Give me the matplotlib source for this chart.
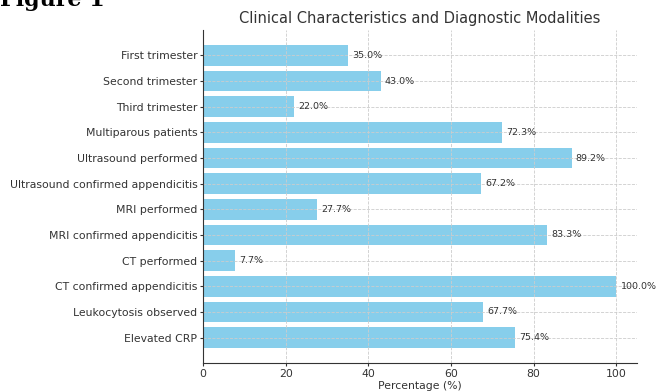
import matplotlib
matplotlib.use("Agg")
import matplotlib.pyplot as plt

categories = [
    "First trimester",
    "Second trimester",
    "Third trimester",
    "Multiparous patients",
    "Ultrasound performed",
    "Ultrasound confirmed appendicitis",
    "MRI performed",
    "MRI confirmed appendicitis",
    "CT performed",
    "CT confirmed appendicitis",
    "Leukocytosis observed",
    "Elevated CRP",
]
percentages = [35.0, 43.0, 22.0, 72.3, 89.2, 67.2, 27.7, 83.3, 7.7, 100.0, 67.7, 75.4]

W, H = 657, 392
fig = plt.figure(figsize=(W / 100, H / 100), dpi=100)
ax = fig.add_axes([203 / W, 1 - 363 / H, (637 - 203) / W, (363 - 30) / H])

ypos = list(range(len(categories)))
ax.barh(ypos, percentages, height=0.8, color="#87CEEB")
ax.set_yticks(ypos)
ax.set_yticklabels(categories, fontsize=7.8, color="#333333")
ax.invert_yaxis()
ax.set_xlim(0, 105)
ax.set_xticks([0, 20, 40, 60, 80, 100])
ax.tick_params(axis="x", labelsize=7.8, colors="#333333", length=2.5, pad=1.5)
ax.tick_params(axis="y", colors="#333333", length=2.5, pad=1.5)

for y, v in zip(ypos, percentages):
    ax.text(v + 1, y, f"{v:.1f}%", va="center", ha="left", fontsize=6.8, color="#333333")

ax.grid(True, linestyle="--", color="#cccccc", linewidth=0.6)
for s in ("top", "right"):
    ax.spines[s].set_visible(False)
ax.spines["left"].set_color("#333333")
ax.spines["bottom"].set_color("#333333")

ax.set_xlabel("Percentage (%)", fontsize=7.8, color="#333333", labelpad=2)
ax.set_title("Clinical Characteristics and Diagnostic Modalities", fontsize=10.5,
             color="#333333", pad=5)

fig.text(0.0, 1 - 6 / H, "Figure 1", fontsize=16, fontweight="bold",
         family="DejaVu Serif", ha="left", va="baseline")

fig.savefig("out.png", dpi=100)
